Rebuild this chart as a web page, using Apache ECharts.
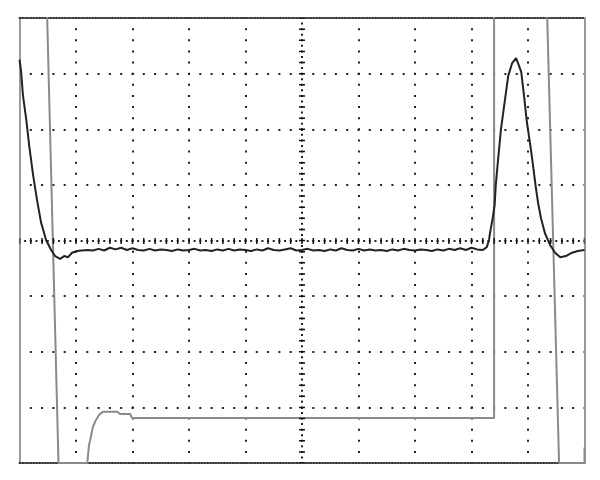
<!DOCTYPE html>
<html>
<head>
<meta charset="utf-8">
<script src="https://cdn.jsdelivr.net/npm/echarts@6/dist/echarts.min.js"></script>
<style>html,body{margin:0;padding:0;background:#fff;}#c{width:600px;height:480px;}</style>
</head>
<body>
<div id="c"></div>
<script>
// Channel 1 (black trace): time in divisions, amplitude in divisions
const blackT = [0,0.03,0.06,0.12,0.17,0.24,0.31,0.38,0.47,0.56,0.63,0.72,0.79,0.86,0.93,1.02,
  1.1,1.2,1.3,1.4,1.5,1.6,1.7,1.8,1.9,2.0,2.1,2.2,2.3,2.4,2.5,2.6,2.7,2.8,2.9,3.0,
  3.1,3.2,3.3,3.4,3.5,3.6,3.7,3.8,3.9,4.0,4.1,4.2,4.3,4.4,4.5,4.6,4.7,4.8,4.9,5.0,
  5.1,5.2,5.3,5.4,5.5,5.6,5.7,5.8,5.9,6.0,6.1,6.2,6.3,6.4,6.5,6.6,6.7,6.8,6.9,7.0,
  7.1,7.2,7.3,7.4,7.5,7.6,7.7,7.8,7.9,8.0,8.1,8.2,
  8.27,8.31,8.33,8.37,8.41,8.43,8.47,8.52,8.58,8.65,8.72,8.79,8.82,8.88,8.93,8.98,
  9.04,9.09,9.14,9.18,9.23,9.30,9.39,9.48,9.57,9.67,9.78,9.88,10.0];
const blackV = [3.25,3.03,2.62,2.17,1.72,1.18,0.73,0.33,0.01,-0.17,-0.28,-0.33,-0.28,-0.30,-0.22,-0.19,
  -0.18,-0.17,-0.18,-0.15,-0.18,-0.13,-0.16,-0.13,-0.17,-0.14,-0.17,-0.18,-0.15,-0.18,-0.16,-0.17,-0.19,-0.16,-0.18,-0.17,
  -0.15,-0.18,-0.17,-0.19,-0.16,-0.18,-0.15,-0.18,-0.16,-0.17,-0.19,-0.16,-0.18,-0.14,-0.17,-0.18,-0.16,-0.14,-0.18,-0.17,
  -0.15,-0.18,-0.17,-0.19,-0.16,-0.18,-0.14,-0.17,-0.18,-0.15,-0.18,-0.16,-0.18,-0.17,-0.19,-0.16,-0.18,-0.15,-0.17,-0.18,
  -0.16,-0.17,-0.19,-0.16,-0.18,-0.15,-0.17,-0.14,-0.17,-0.13,-0.16,-0.17,
  -0.12,0.01,0.15,0.37,0.64,1.00,1.45,1.99,2.44,2.96,3.19,3.28,3.26,3.03,2.60,2.13,
  1.72,1.34,0.94,0.67,0.40,0.13,-0.08,-0.22,-0.30,-0.28,-0.22,-0.19,-0.17];

// Channel 2 (grey trace)
const grayT = [0,0.48,0.69,1.20,1.23,1.25,1.30,1.35,1.42,1.48,1.73,1.78,1.96,1.99,8.40,8.40,9.33,9.55,10.0,10.0];
const grayV = [4.4,4.4,-4.0,-4.0,-3.68,-3.59,-3.35,-3.23,-3.12,-3.08,-3.08,-3.12,-3.12,-3.19,-3.19,4.4,4.4,-4.0,-4.0,-3.72];

const blackData = blackT.map((t,i)=>[t, blackV[i]]);
const grayData = grayT.map((t,i)=>[t, grayV[i]]);

const W = 565, H = 445; // plot size in px (10 x 8 divisions)
const dx = W/50, dy = H/40; // 0.2 division dot spacing

const chart = echarts.init(document.getElementById('c'), null, {renderer:'canvas'});
const borderDots = {color:'#333', width:2, type:[1, 1.8]};
const edgeLine = {color:'#9a9a9a', width:2};
chart.setOption({
  animation:false,
  backgroundColor:'#ffffff',
  grid:{left:19.5, right:15.5, top:18, bottom:17, containLabel:false},
  xAxis:[
    {type:'value', min:0, max:10, interval:1,
     axisLabel:{show:false}, axisTick:{show:false},
     axisLine:{show:true, onZero:false, lineStyle:borderDots},
     splitLine:{show:true, showMinLine:false, showMaxLine:false,
       lineStyle:{color:'#222', width:2, type:[2, dy-2], dashOffset:1}}},
    {type:'value', position:'top', min:0, max:10, interval:1,
     axisLabel:{show:false}, axisTick:{show:false},
     axisLine:{show:true, onZero:false, lineStyle:borderDots},
     splitLine:{show:false}}
  ],
  yAxis:[
    {type:'value', min:-4, max:4, interval:1,
     axisLabel:{show:false}, axisTick:{show:false},
     axisLine:{show:true, onZero:false, lineStyle:edgeLine},
     splitLine:{show:true, showMinLine:false, showMaxLine:false,
       lineStyle:{color:'#222', width:2, type:[2, dx-2], dashOffset:1}}},
    {type:'value', position:'right', min:-4, max:4, interval:1,
     axisLabel:{show:false}, axisTick:{show:false},
     axisLine:{show:true, onZero:false, lineStyle:edgeLine},
     splitLine:{show:false}}
  ],
  series:[
    {type:'line', name:'graticule', data:[[null,null]], symbol:'none', silent:true, z:1,
     markLine:{silent:true, symbol:'none', label:{show:false}, animation:false,
       data:[
         {yAxis:0, lineStyle:{color:'#111', width:6, type:[1.5, dx-1.5], dashOffset:0.75}},
         {yAxis:0, lineStyle:{color:'#222', width:2, type:[2, dx-2], dashOffset:dx/2+1}},
         {xAxis:5, lineStyle:{color:'#111', width:6, type:[1.5, dy-1.5], dashOffset:0.75}},
         {xAxis:5, lineStyle:{color:'#222', width:2, type:[2, dy-2], dashOffset:dy/2+1}}
       ]}},
    {type:'line', name:'CH2', data:grayData, symbol:'none', clip:true, z:3,
     lineStyle:{color:'#8a8a8a', width:2}},
    {type:'line', name:'CH1', data:blackData, symbol:'none', clip:true, z:4,
     lineStyle:{color:'#222', width:2}}
  ]
});
</script>
</body>
</html>
